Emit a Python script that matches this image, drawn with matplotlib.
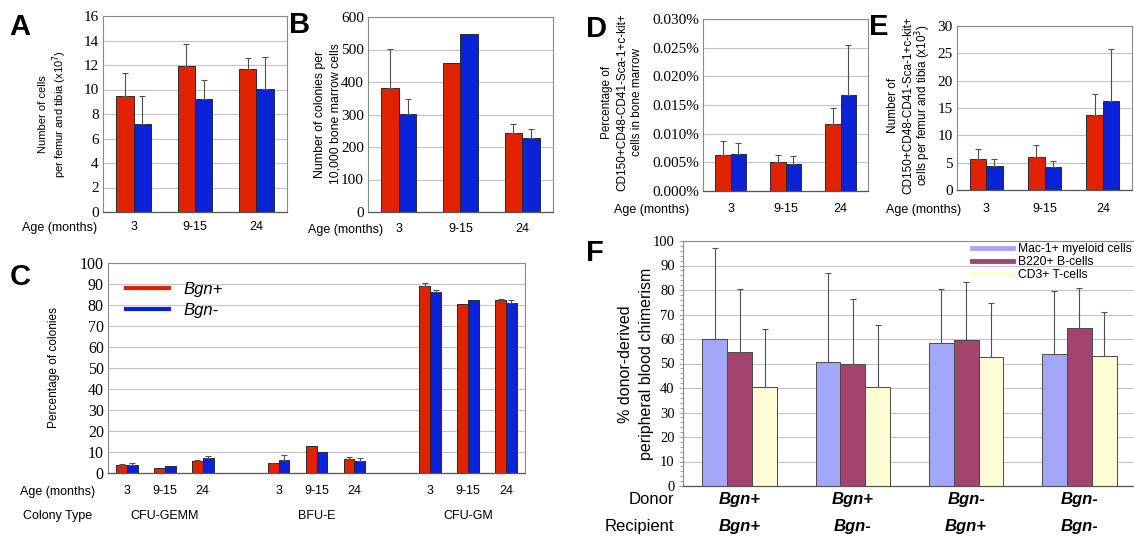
import matplotlib
matplotlib.use('Agg')
import matplotlib.pyplot as plt
from matplotlib.lines import Line2D
from matplotlib.ticker import FuncFormatter, MultipleLocator
import numpy as np

W, H = 1134, 540
SANS = 'Liberation Sans'
SERIF = 'Liberation Serif'
RED = '#E02200'
BLUE = '#0A22D8'
MAC = '#A4A7F9'
B220 = '#A3446F'
CD3 = '#FFFCD5'

ages = ['3', '9-15', '24']

# ---- A: cells per femur and tibia (x10^7)
a_red = [9.5, 11.95, 11.65]
a_red_err = [1.82, 1.74, 0.89]
a_blue = [7.18, 9.2, 10.07]
a_blue_err = [2.26, 1.55, 2.6]

# ---- B: colonies per 10,000 bone marrow cells
b_red = [381, 457, 242]
b_red_err = [121, 0, 29]
b_blue = [303, 548, 227]
b_blue_err = [46, 0, 28]

# ---- D: percentage of LSK SLAM cells in bone marrow
d_red = [0.0062, 0.00506, 0.01163]
d_red_err = [0.0026, 0.00122, 0.0028]
d_blue = [0.0064, 0.00471, 0.0168]
d_blue_err = [0.0019, 0.00134, 0.0087]

# ---- E: number of LSK SLAM cells (x10^3)
e_red = [5.6, 6.09, 13.63]
e_red_err = [1.88, 2.1, 4.0]
e_blue = [4.44, 4.2, 16.3]
e_blue_err = [1.16, 1.1, 9.55]

# ---- C: percentage of colonies by type (blank slots between groups)
c_labels = ['3', '9-15', '24', '', '3', '9-15', '24', '', '3', '9-15', '24']
c_groups = ['CFU-GEMM', 'BFU-E', 'CFU-GM']
c_red = [3.8, 2.5, 5.7, 0, 4.6, 12.7, 6.8, 0, 89.0, 80.7, 82.5]
c_red_err = [0.5, 0, 0.7, 0, 0.3, 0, 0.8, 0, 1.6, 0, 0.3]
c_blue = [3.7, 3.2, 7.2, 0, 6.4, 9.9, 5.7, 0, 86.3, 82.6, 81.1]
c_blue_err = [1.2, 0, 0.9, 0, 2.2, 0, 1.3, 0, 1.0, 0, 1.4]

# ---- F: donor-derived peripheral blood chimerism
f_donor = ['Bgn+', 'Bgn+', 'Bgn-', 'Bgn-']
f_recipient = ['Bgn+', 'Bgn-', 'Bgn+', 'Bgn-']
f_series = ['Mac-1+ myeloid cells', 'B220+ B-cells', 'CD3+ T-cells']
f_mac = [60.0, 50.7, 58.5, 54.0]
f_mac_err = [37.3, 36.4, 22.0, 25.5]
f_b220 = [54.6, 49.8, 59.7, 64.4]
f_b220_err = [25.8, 26.4, 23.6, 16.3]
f_cd3 = [40.4, 40.4, 52.8, 53.1]
f_cd3_err = [23.8, 25.5, 21.9, 17.8]

fig = plt.figure(figsize=(W / 100, H / 100), dpi=100)
fig.patch.set_facecolor('white')


def px_axes(x0, y0, x1, y1):
    return fig.add_axes([x0 / W, 1 - y1 / H, (x1 - x0) / W, (y1 - y0) / H])


def ftext(x, y, s, **kw):
    kw.setdefault('family', SANS)
    return fig.text(x / W, 1 - y / H, s, **kw)


def ylabel_lines(xs, y, lines, size):
    # one rotated text per line, so short lines stay short
    for x, s in zip(xs, lines):
        ftext(x, y, s, rotation=90, ha='center', va='center', fontsize=size)


def style(ax, tick_size):
    ax.set_axisbelow(True)
    ax.yaxis.grid(True, color='#C4C4C4', lw=0.8)
    for side in ['top', 'right', 'left']:
        ax.spines[side].set_color('#8A8A8A')
        ax.spines[side].set_linewidth(0.8)
    ax.spines['bottom'].set_color('#555555')
    ax.spines['bottom'].set_linewidth(0.9)
    ax.tick_params(axis='both', length=0)
    for lab in ax.get_yticklabels():
        lab.set_family(SERIF)
        lab.set_fontsize(tick_size)
    ax.tick_params(axis='y', pad=3)


def up_err(ax, x, vals, errs, capsize=2.5):
    x = np.asarray(x, float)
    vals = np.asarray(vals, float)
    errs = np.asarray(errs, float)
    m = errs > 0
    ax.errorbar(x[m], vals[m], yerr=[np.zeros(m.sum()), errs[m]], fmt='none',
                ecolor='#505050', elinewidth=0.8, capsize=capsize, capthick=0.8)


def pair_panel(rect, red, red_err, blue, blue_err, ylim, step, tick_size, pad, fmt=None):
    ax = px_axes(*rect)
    x = np.arange(len(red))
    w = 0.285
    ax.bar(x - w / 2, red, w, color=RED, edgecolor='#2A2A2A', lw=0.7, zorder=2)
    ax.bar(x + w / 2, blue, w, color=BLUE, edgecolor='#2A2A2A', lw=0.7, zorder=2)
    up_err(ax, x - w / 2, red, red_err)
    up_err(ax, x + w / 2, blue, blue_err)
    ax.set_xlim(-0.5, len(red) - 0.5)
    ax.set_ylim(*ylim)
    ax.yaxis.set_major_locator(MultipleLocator(step))
    if fmt:
        ax.yaxis.set_major_formatter(FuncFormatter(fmt))
    ax.set_xticks(x)
    ax.set_xticklabels(ages, family=SANS, fontsize=9)
    ax.tick_params(axis='x', pad=pad)
    style(ax, tick_size)
    return ax


# ---------------- A
pair_panel((103, 16, 287, 212), a_red, a_red_err, a_blue, a_blue_err,
           (0, 16), 2, 11, 6.5)
ylabel_lines([43, 60], 114, ['Number of cells', 'per femur and tibia (x10$^7$)'], 8)
ftext(60, 228, 'Age (months)', ha='center', va='center', fontsize=9)
ftext(9, 35, 'A', fontsize=21, weight='bold')

# ---------------- B
pair_panel((368, 17, 553, 212), b_red, b_red_err, b_blue, b_blue_err,
           (0, 600), 100, 11, 8)
ylabel_lines([320, 335], 114, ['Number of colonies per', '10,000 bone marrow cells'], 8.8)
ftext(346, 230, 'Age (months)', ha='center', va='center', fontsize=9)
ftext(289, 33, 'B', fontsize=21, weight='bold')

# ---------------- D
pair_panel((703, 19, 868, 191), d_red, d_red_err, d_blue, d_blue_err,
           (0, 0.030), 0.005, 11, 8.6, fmt=lambda v, p: '%.3f%%' % v)
ylabel_lines([607, 622, 637], 102,
             ['Percentage of', 'CD150+CD48-CD41-Sca-1+c-kit+', 'cells in bone marrow'], 8.5)
ftext(652, 210, 'Age (months)', ha='center', va='center', fontsize=9)
ftext(586, 37, 'D', fontsize=21, weight='bold')

# ---------------- E
pair_panel((957, 26, 1132, 190), e_red, e_red_err, e_blue, e_blue_err,
           (0, 30), 5, 11, 9.4)
ylabel_lines([893, 908, 923], 105,
             ['Number of', 'CD150+CD48-CD41-Sca-1+c-kit+', 'cells per femur and tibia (x10$^3$)'],
             8.5)
ftext(924, 210, 'Age (months)', ha='center', va='center', fontsize=9)
ftext(869, 35, 'E', fontsize=21, weight='bold')

# ---------------- C
axc = px_axes(108, 263, 525, 473)
xc = np.arange(len(c_labels))
wc = 0.285
axc.bar(xc - wc / 2, c_red, wc, color=RED, edgecolor='#2A2A2A', lw=0.7, zorder=2)
axc.bar(xc + wc / 2, c_blue, wc, color=BLUE, edgecolor='#2A2A2A', lw=0.7, zorder=2)
up_err(axc, xc - wc / 2, c_red, c_red_err, capsize=2)
up_err(axc, xc + wc / 2, c_blue, c_blue_err, capsize=2)
axc.set_xlim(-0.5, len(c_labels) - 0.5)
axc.set_ylim(0, 100)
axc.yaxis.set_major_locator(MultipleLocator(10))
axc.set_xticks(xc)
axc.set_xticklabels(c_labels, family=SANS, fontsize=9)
axc.tick_params(axis='x', pad=8.6)
style(axc, 11.5)
for i, g in enumerate(c_groups):
    axc.text(1 + 4 * i, (473 - 516) / 210, g, transform=axc.get_xaxis_transform(),
             ha='center', va='center', family=SANS, fontsize=9)
axc.legend(handles=[Line2D([], [], color=RED, lw=3), Line2D([], [], color=BLUE, lw=3)],
           labels=['Bgn+', 'Bgn-'], loc='upper left', bbox_to_anchor=(0.043, 0.91),
           frameon=False, prop={'family': SANS, 'style': 'italic', 'size': 12},
           handlelength=2.6, handletextpad=0.85, labelspacing=0.35,
           borderpad=0, borderaxespad=0)
ftext(54, 368, 'Percentage of colonies', rotation=90, ha='center', va='center', fontsize=8.6)
ftext(58, 492, 'Age (months)', ha='center', va='center', fontsize=9)
ftext(58, 516, 'Colony Type', ha='center', va='center', fontsize=9)
ftext(10, 285, 'C', fontsize=21, weight='bold')

# ---------------- F
axf = px_axes(683, 241, 1136, 486)
xf = np.arange(len(f_donor))
wf = 0.22
for k, (vals, errs, col) in enumerate([(f_mac, f_mac_err, MAC), (f_b220, f_b220_err, B220),
                                        (f_cd3, f_cd3_err, CD3)]):
    xs = xf + (k - 1) * wf
    axf.bar(xs, vals, wf, color=col, edgecolor='#4A4A4A', lw=0.7, zorder=2)
    up_err(axf, xs, vals, errs, capsize=2.5)
axf.set_xlim(-0.5, len(f_donor) - 0.5)
axf.set_ylim(0, 100)
axf.yaxis.set_major_locator(MultipleLocator(10))
axf.yaxis.set_minor_locator(MultipleLocator(2))
axf.set_xticks(xf)
axf.set_xticklabels(f_donor, family=SANS, fontsize=12, style='italic', weight='bold')
axf.tick_params(axis='x', pad=4.5)
style(axf, 10.5)
axf.tick_params(axis='y', which='minor', length=2.5, color='#8A8A8A', width=0.6)
axf.tick_params(axis='y', which='major', length=3, color='#8A8A8A', width=0.6)
for i, r in enumerate(f_recipient):
    axf.text(i, (486 - 527) / 245, r, transform=axf.get_xaxis_transform(), ha='center',
             va='center', family=SANS, fontsize=12, style='italic', weight='bold')
fig.legend(handles=[Line2D([], [], color=c, lw=3.5) for c in (MAC, B220, CD3)],
           labels=f_series, loc='upper left', bbox_to_anchor=(972 / W, 1 - 243 / H),
           frameon=False, prop={'family': SANS, 'size': 8.7}, handlelength=3.4,
           handletextpad=0.4, labelspacing=0.08, borderpad=0, borderaxespad=0)
ylabel_lines([626, 647], 364, ['% donor-derived', 'peripheral blood chimerism'], 11.5)
ftext(674, 500, 'Donor', ha='right', va='center', fontsize=12)
ftext(674, 527, 'Recipient', ha='right', va='center', fontsize=12)
ftext(586, 261, 'F', fontsize=21, weight='bold')

fig.savefig('out.png', dpi=100, facecolor='white')
